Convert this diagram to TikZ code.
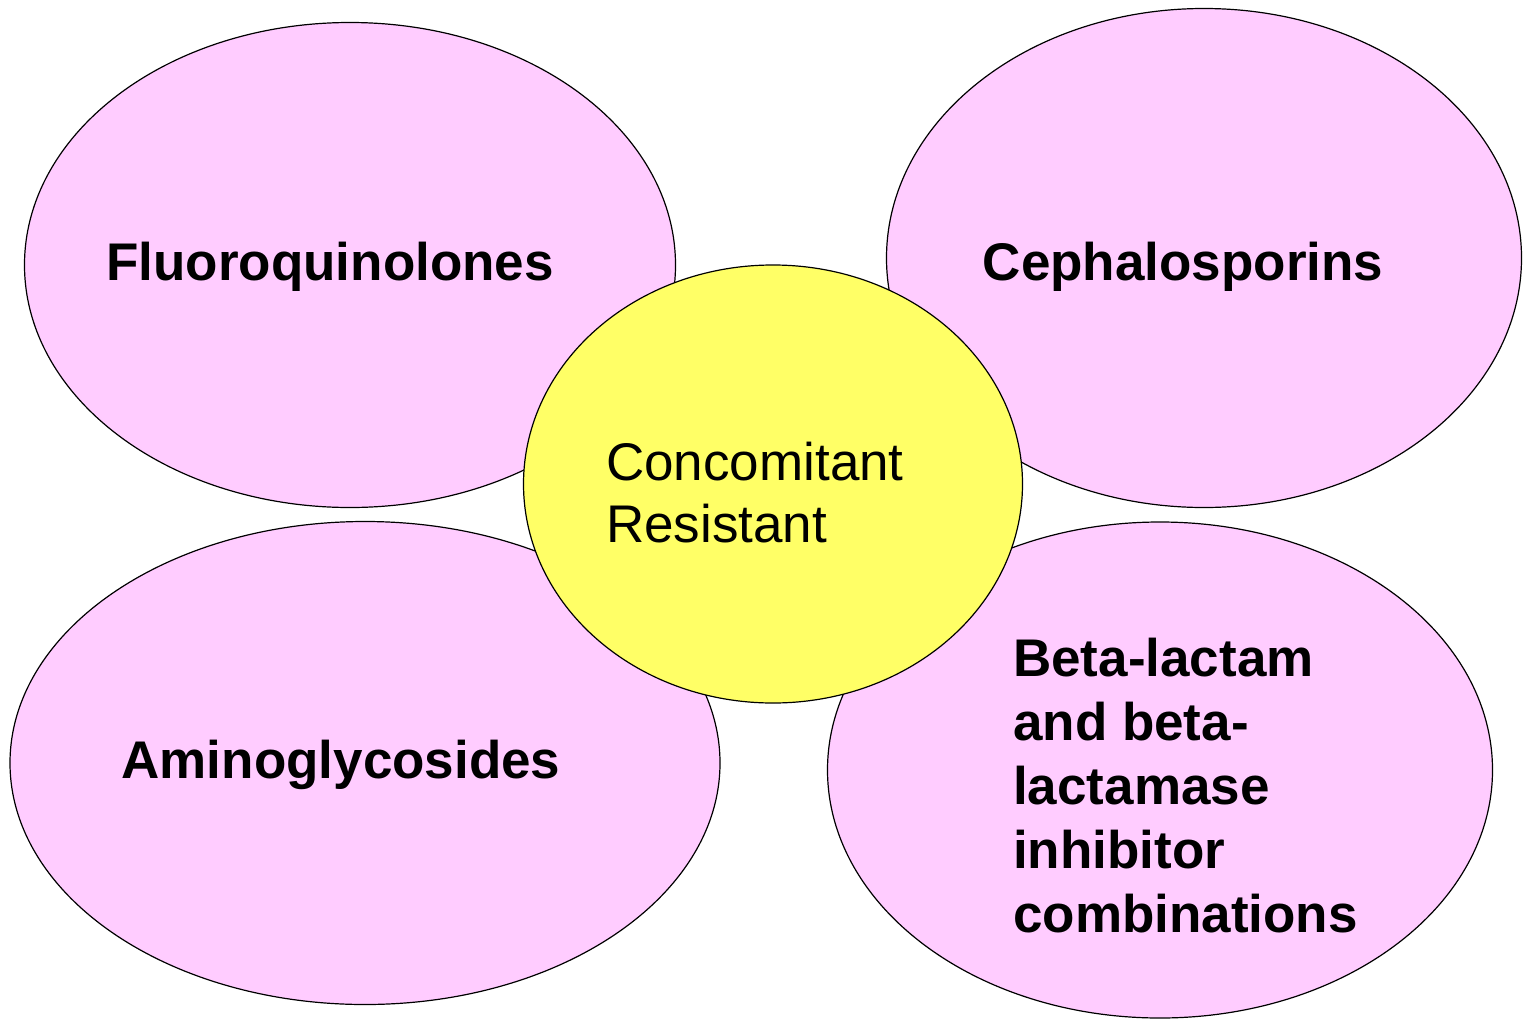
\documentclass[tikz,border=0pt]{standalone}
\usepackage{fontspec}
\setmainfont{Liberation Sans}
\usetikzlibrary{shapes.geometric}
\definecolor{petal}{HTML}{FFCCFF}
\definecolor{core}{HTML}{FFFF66}
\begin{document}
\begin{tikzpicture}[x=1pt,y=-1pt,
  petalshape/.style={ellipse,draw=black,line width=1.2pt,fill=petal,inner sep=0pt},
  coreshape/.style={ellipse,draw=black,line width=1.2pt,fill=core,inner sep=0pt},
  boldlabel/.style={font={\fontsize{53}{64}\selectfont\bfseries},inner sep=0pt,align=left},
  plainlabel/.style={font={\fontsize{53}{62}\selectfont},inner sep=0pt,align=left}]
\useasboundingbox[fill=white] (0,0) rectangle (1525,1020);
\node[petalshape,minimum width=651pt,minimum height=485pt] (fq) at (350,265) {};
\node[petalshape,minimum width=635pt,minimum height=499pt] (ceph) at (1204,258) {};
\node[petalshape,minimum width=710pt,minimum height=483pt] (amino) at (365,763) {};
\node[petalshape,minimum width=665pt,minimum height=496pt] (beta) at (1160,770) {};
\node[coreshape,minimum width=499pt,minimum height=438pt] (core) at (773,484) {};
\node[boldlabel] (tfq) at (330,267) {Fluoroquinolones};
\node[boldlabel] (tceph) at (1183,267) {Cephalosporins};
\node[boldlabel] (tamino) at (341,765) {Aminoglycosides};
\node[boldlabel,anchor=west] (tbeta) at (1013,786) {Beta-lactam\\and beta-\\lactamase\\inhibitor\\combinations};
\node[plainlabel,anchor=west] (tcore) at (606,493) {Concomitant\\Resistant};
\end{tikzpicture}
\end{document}
